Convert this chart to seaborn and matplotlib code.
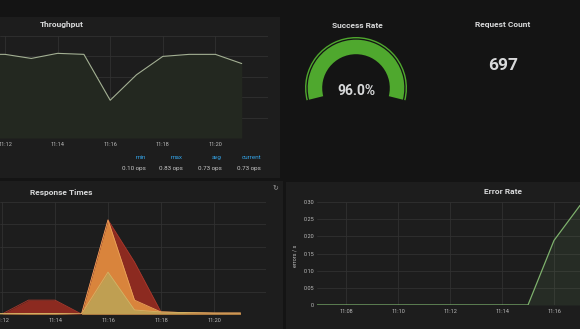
import matplotlib
matplotlib.use("Agg")
import matplotlib.pyplot as plt
import seaborn as sns
import pandas as pd
from matplotlib.patches import Wedge, Rectangle

# ---------------- data ----------------
tp_times = ["11:11", "11:12", "11:13", "11:14", "11:15", "11:16", "11:17", "11:18", "11:19", "11:20", "11:21"]
tp_values = [0.82, 0.82, 0.78, 0.83, 0.82, 0.37, 0.62, 0.80, 0.82, 0.82, 0.73]
tp_ticks = ["11:12", "11:14", "11:16", "11:18", "11:20"]
tp_legend_labels = ["min", "max", "avg", "current"]
tp_legend_values = ["0.10 ops", "0.83 ops", "0.73 ops", "0.73 ops"]

success_rate = 96.0
request_count = 697

rt_times = ["11:11", "11:12", "11:13", "11:14", "11:15", "11:16", "11:17", "11:18", "11:19", "11:20", "11:21"]
rt_red = [0, 0, 62, 62, 0, 420, 232, 9, 6, 4, 4]
rt_orange = [0, 0, 2, 2, 0, 420, 62, 9, 6, 4, 4]
rt_tan = [0, 2, 2, 2, 0, 187, 18, 9, 6, 4, 4]
rt_ticks = ["11:12", "11:14", "11:16", "11:18", "11:20"]

er_times = ["11:06", "11:07", "11:08", "11:09", "11:10", "11:11", "11:12", "11:13", "11:14", "11:15", "11:16", "11:17", "11:18"]
er_values = [0, 0, 0, 0, 0, 0, 0, 0, 0, 0, 0.188, 0.29, 0.30]
er_ticks = ["11:08", "11:10", "11:12", "11:14", "11:16"]
er_yticks = [0, 0.05, 0.10, 0.15, 0.20, 0.25, 0.30]
er_yticklabels = ["0", "0.05", "0.10", "0.15", "0.20", "0.25", "0.30"]

# ---------------- style ----------------
sns.set_theme(style="dark")
plt.rcParams['font.family'] = ['Roboto', 'DejaVu Sans']

W, H = 580, 329
PAGE = "#141414"
PANEL = "#1d1d1d"
GRID = "#313131"
TXT = "#d8d9da"
TICK = "#bdbdbd"

fig = plt.figure(figsize=(W / 100, H / 100), dpi=100)
fig.patch.set_facecolor(PAGE)


def to_min(t):
    h, m = t.split(":")
    return (int(h) - 11) * 60 + int(m)


def px_axes(x0, y0, x1, y1):
    return fig.add_axes([x0 / W, 1 - y1 / H, (x1 - x0) / W, (y1 - y0) / H])


def panel(x0, y0, x1, y1, color=PANEL):
    fig.add_artist(Rectangle((x0 / W, 1 - y1 / H), (x1 - x0) / W, (y1 - y0) / H,
                             transform=fig.transFigure, facecolor=color, edgecolor="none", zorder=0))


def ftext(x, y, s, **kw):
    fig.text(x / W, 1 - y / H, s, **kw)


def style_ax(ax):
    ax.set_facecolor("none")
    for sp in ax.spines.values():
        sp.set_visible(False)
    ax.grid(True, color=GRID, lw=0.6)
    ax.tick_params(axis="both", length=0, colors=TICK, labelsize=4, pad=3)
    ax.set_xlabel("")
    ax.set_ylabel("")


# panels
panel(-2, 17, 280, 178)
panel(-2, 181, 283, 331)
panel(286, 182, 582, 331)

# ---------------- Throughput ----------------
ax = px_axes(0, 36, 268, 138)
tp_df = pd.DataFrame({"t": [to_min(t) for t in tp_times], "v": tp_values})
ax.fill_between(tp_df["t"], tp_df["v"], 0, color="#232820", lw=0, zorder=1)
sns.lineplot(data=tp_df, x="t", y="v", ax=ax, color="#a3b093", lw=0.8, zorder=3)
ax.set_xlim(12 - 5 / 26.3, 22.0)
ax.set_ylim(0, 1.0)
ax.set_yticks([0, 0.2, 0.4, 0.6, 0.8, 1.0])
ax.set_yticklabels([])
ax.set_xticks([to_min(t) for t in tp_ticks])
ax.set_xticklabels(tp_ticks)
style_ax(ax)
ftext(62, 25, "Throughput", color=TXT, fontsize=6, weight="bold", ha="center", va="center")
leg_x = [146, 183, 222, 261]
for x, lab, val in zip(leg_x, tp_legend_labels, tp_legend_values):
    ftext(x, 159, lab, color="#33a2e5", fontsize=4.5, ha="right", va="baseline")
    ftext(x, 170, val, color="#c8c8c8", fontsize=4.5, ha="right", va="baseline")

# ---------------- Success Rate gauge ----------------
gx = px_axes(300, 32, 412, 144)
gx.set_xlim(-56, 56)
gx.set_ylim(-56, 56)
gx.set_aspect("equal")
gx.axis("off")
GREEN = "#4fa82e"
gx.add_patch(Wedge((0, 0), 51, -14, 194, width=1.4, facecolor=GREEN, edgecolor="none"))
gx.add_patch(Wedge((0, 0), 48.3, -14, 194, width=14.5, facecolor=GREEN, edgecolor="none"))
gx.text(0, -3, f"{success_rate:.1f}%", color=TXT, fontsize=10, weight="bold", ha="center", va="center")
ftext(357, 25, "Success Rate", color=TXT, fontsize=6, weight="bold", ha="center", va="center")

# ---------------- Request Count ----------------
ftext(503, 25, "Request Count", color=TXT, fontsize=6, weight="bold", ha="center", va="center")
ftext(503, 66, f"{request_count}", color=TXT, fontsize=12.5, weight="bold", ha="center", va="center")

# ---------------- Response Times ----------------
ax2 = px_axes(0, 202, 266, 314)
tt = [to_min(t) for t in rt_times]
rt_df = pd.DataFrame({"t": tt, "red": rt_red, "orange": rt_orange, "tan": rt_tan})
for col, fc, lc in [("red", "#8c2a20", "#a8382c"),
                    ("orange", "#d9843c", "#eaa35a"),
                    ("tan", "#bf9f52", "#d2b466")]:
    ax2.fill_between(rt_df["t"], rt_df[col], 0, color=fc, lw=0, zorder=2)
    sns.lineplot(data=rt_df, x="t", y=col, ax=ax2, color=lc, lw=0.6, zorder=3)
ax2.set_xlim(12 - 2 / 26.5, 12 + 264 / 26.5)
ax2.set_ylim(0, 500)
ax2.set_yticks([0, 100, 200, 300, 400, 500])
ax2.set_yticklabels([])
ax2.set_xticks([to_min(t) for t in rt_ticks])
ax2.set_xticklabels(rt_ticks)
style_ax(ax2)
ftext(61, 192, "Response Times", color=TXT, fontsize=6, weight="bold", ha="center", va="center")
ftext(275, 188, "\u21bb", color="#9a9a9a", fontsize=5, ha="center", va="center",
      family=["DejaVu Sans"])

# ---------------- Error Rate ----------------
ax3 = px_axes(317, 202, 580, 305)
er_df = pd.DataFrame({"t": [to_min(t) for t in er_times], "v": er_values})
ax3.fill_between(er_df["t"], er_df["v"], 0, color="#7eb26d", alpha=0.1, lw=0, zorder=1)
sns.lineplot(data=er_df, x="t", y="v", ax=ax3, color="#7eb26d", lw=0.9, zorder=3)
ax3.set_xlim(8 - 29 / 26.0, 8 + 234 / 26.0)
ax3.set_ylim(0, 0.30)
ax3.set_yticks(er_yticks)
ax3.set_yticklabels(er_yticklabels)
ax3.set_xticks([to_min(t) for t in er_ticks])
ax3.set_xticklabels(er_ticks)
style_ax(ax3)
ax3.tick_params(axis="y", pad=2)
ftext(295, 256, "errors / s", color=TICK, fontsize=4, rotation=90, ha="center", va="center")
ftext(503, 191, "Error Rate", color=TXT, fontsize=6, weight="bold", ha="center", va="center")

fig.savefig("out.png", dpi=100, facecolor=fig.get_facecolor())
